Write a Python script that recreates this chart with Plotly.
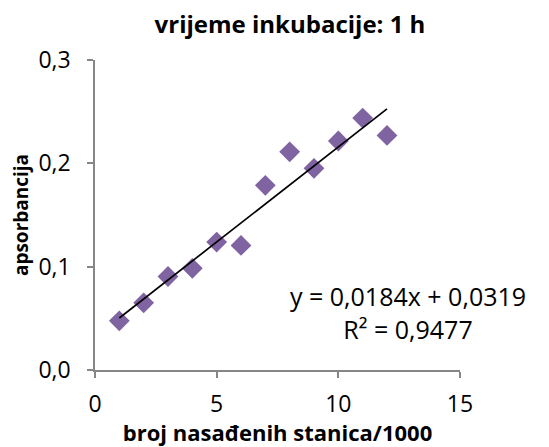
import numpy as np
import plotly.graph_objects as go

# data
cells = [1, 2, 3, 4, 5, 6, 7, 8, 9, 10, 11, 12]
absorbance = [0.0476, 0.065, 0.0905, 0.0984, 0.1238, 0.1206, 0.1787, 0.2111, 0.1952, 0.2216, 0.2438, 0.227]
trend_slope = 0.0184
trend_intercept = 0.0319
r_squared = 0.9477
x_ticks = [0, 5, 10, 15]
y_ticks = [0.0, 0.1, 0.2, 0.3]
y_tick_labels = ["0,0", "0,1", "0,2", "0,3"]

OFF = 8  # default body margin of the page
WIN_W, WIN_H = 549, 447
W, H = WIN_W - OFF, WIN_H - OFF
PX0, PX1, PY0, PY1 = 95, 460, 60, 375  # plot area in window pixels
L, R, T, B = PX0 - OFF, W + OFF - PX1, PY0 - OFF, H + OFF - PY1

def paper_x(px):
    return (px - PX0) / (PX1 - PX0)

def paper_y(py):
    return (PY1 - py) / (PY1 - PY0)

trend_x = [min(cells), max(cells)]
trend_y = [trend_intercept + trend_slope * v for v in trend_x]

fig = go.Figure()
fig.add_trace(go.Scatter(
    x=cells, y=absorbance, mode="markers",
    marker=dict(symbol="diamond", size=16, color="#8064A2", line=dict(width=0)),
    showlegend=False, hoverinfo="skip"))
fig.add_trace(go.Scatter(
    x=trend_x, y=trend_y, mode="lines",
    line=dict(color="black", width=1.7),
    showlegend=False, hoverinfo="skip"))

font_family = "Open Sans, Noto Sans, sans-serif"

def fmt(v, nd):
    return f"{v:.{nd}f}".replace(".", ",")

eq_text = f"y = {fmt(trend_slope,4)}x + {fmt(trend_intercept,4)}<br>R² = {fmt(r_squared,4)}"

fig.add_annotation(
    text=eq_text, xref="paper", yref="paper",
    x=paper_x(408), y=paper_y(317),
    xanchor="center", yanchor="middle", showarrow=False, align="center",
    font=dict(family=font_family, size=25, color="black"))

fig.update_layout(
    width=W, height=H,
    margin=dict(l=L, r=R, t=T, b=B),
    paper_bgcolor="white", plot_bgcolor="white",
    font=dict(family=font_family, color="black"),
    title=dict(text="<b>vrijeme inkubacije: 1 h</b>", x=(290 - OFF) / W, xanchor="center",
               y=1 - (25 - OFF) / H, yanchor="middle", xref="container", yref="container",
               font=dict(size=24, family=font_family, color="black")),
    xaxis=dict(range=[0, 15], tickvals=x_ticks, ticktext=[str(v) for v in x_ticks],
               showgrid=False, zeroline=False, showline=True, linecolor="#868686", linewidth=1.5,
               ticks="outside", ticklen=6, tickcolor="#868686", tickwidth=1.5,
               ticklabelstandoff=7,
               tickfont=dict(size=23, family=font_family, color="black"),
               title=dict(text="<b>broj nasađenih stanica/1000</b>", standoff=0,
                          font=dict(size=22, family=font_family, color="black"))),
    yaxis=dict(range=[0, 0.3], tickvals=y_ticks, ticktext=y_tick_labels,
               showgrid=False, zeroline=False, showline=True, linecolor="#868686", linewidth=1.5,
               ticks="outside", ticklen=6, tickcolor="#868686", tickwidth=1.5,
               ticklabelstandoff=12,
               tickfont=dict(size=23, family=font_family, color="black"),
               title=dict(text="<b>apsorbancija</b>", standoff=5,
                          font=dict(size=19, family=font_family, color="black"))),
)

fig.write_html("out.html")
